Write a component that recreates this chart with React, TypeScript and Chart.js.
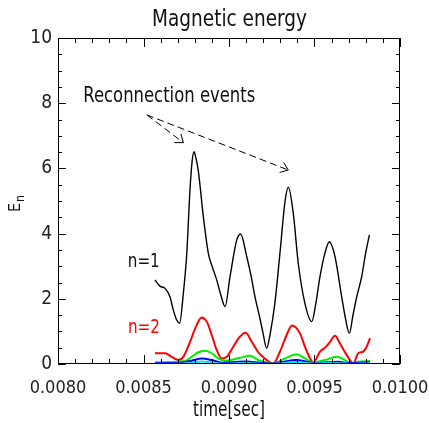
import React, { useEffect, useRef } from "react";
import { Chart, registerables } from "chart.js";

Chart.register(...registerables);

// ---- data (time [sec], energy) ----
const n1Time = [0.008567, 0.008596, 0.008626, 0.008655, 0.008674, 0.008694, 0.008711, 0.008733, 0.008753, 0.008772, 0.008784, 0.008795, 0.008807, 0.00882, 0.00885, 0.008879, 0.008901, 0.008928, 0.008953, 0.008977, 0.009006, 0.009045, 0.009068, 0.009104, 0.009129, 0.009152, 0.009181, 0.009199, 0.00922, 0.00924, 0.009269, 0.009298, 0.009328, 0.009347, 0.009376, 0.009405, 0.009444, 0.009484, 0.009509, 0.009532, 0.009561, 0.009587, 0.00962, 0.009659, 0.009681, 0.009704, 0.009725, 0.009747, 0.009776, 0.009799, 0.009821];
const n1Energy = [2.58, 2.39, 2.32, 2.06, 1.66, 1.35, 1.25, 2.17, 3.38, 5.36, 6.2, 6.51, 6.3, 5.95, 4.52, 3.4, 3.0, 2.58, 2.1, 1.76, 2.68, 3.8, 3.99, 3.29, 2.7, 2.06, 1.4, 0.95, 0.48, 0.9, 1.9, 3.4, 5.0, 5.42, 4.62, 3.09, 1.86, 1.3, 1.9, 2.68, 3.4, 3.75, 3.29, 2.06, 1.4, 0.94, 1.5, 2.06, 2.68, 3.4, 3.96];

const n2Time = [0.008567, 0.008626, 0.008665, 0.008704, 0.008733, 0.008772, 0.008811, 0.00884, 0.00887, 0.008899, 0.008928, 0.008957, 0.008987, 0.009025, 0.009064, 0.009098, 0.009133, 0.009154, 0.009171, 0.009191, 0.00924, 0.009259, 0.009298, 0.009337, 0.009368, 0.009415, 0.009444, 0.009474, 0.009493, 0.009532, 0.009561, 0.009591, 0.00962, 0.009649, 0.009688, 0.009727, 0.009756, 0.009785, 0.009805, 0.009825];
const n2Energy = [0.33, 0.33, 0.22, 0.12, 0.22, 0.68, 1.2, 1.43, 1.3, 0.89, 0.43, 0.17, 0.22, 0.53, 0.84, 0.96, 0.68, 0.5, 0.36, 0.25, 0.05, 0.02, 0.38, 0.89, 1.18, 0.94, 0.53, 0.17, 0.05, 0.38, 0.5, 0.68, 0.87, 0.63, 0.28, 0.02, 0.33, 0.38, 0.53, 0.79];

const n3Time = [0.008567, 0.008655, 0.008743, 0.008782, 0.00882, 0.00886, 0.008899, 0.008937, 0.008977, 0.009025, 0.009064, 0.009123, 0.009171, 0.009191, 0.009259, 0.009308, 0.009347, 0.009396, 0.009444, 0.009493, 0.009561, 0.00963, 0.009678, 0.009717, 0.009756, 0.009825];
const n3Energy = [0.05, 0.06, 0.09, 0.22, 0.36, 0.41, 0.33, 0.17, 0.1, 0.14, 0.19, 0.25, 0.12, 0.09, 0.01, 0.12, 0.22, 0.3, 0.17, 0.05, 0.12, 0.22, 0.12, 0.02, 0.07, 0.09];

const n4Time = [0.008567, 0.0087, 0.00878, 0.00884, 0.0089, 0.00896, 0.00903, 0.0091, 0.00918, 0.00925, 0.00932, 0.00939, 0.00945, 0.0095, 0.00957, 0.00964, 0.0097, 0.00976, 0.009825];
const n4Energy = [0.03, 0.03, 0.1, 0.17, 0.12, 0.04, 0.06, 0.08, 0.04, 0.01, 0.07, 0.12, 0.08, 0.02, 0.05, 0.07, 0.03, 0.04, 0.05];

const n5Time = [0.008567, 0.0087, 0.00879, 0.00884, 0.0089, 0.00896, 0.00905, 0.00911, 0.00918, 0.00925, 0.00933, 0.00939, 0.00945, 0.0095, 0.0096, 0.0097, 0.009825];
const n5Energy = [0.01, 0.01, 0.04, 0.08, 0.05, 0.01, 0.02, 0.03, 0.01, 0.0, 0.03, 0.06, 0.03, 0.01, 0.03, 0.01, 0.02];

// ---- axes ----
const xMin = 0.008;
const xMax = 0.01;
const xMajorStep = 0.0005;
const xMinorStep = 0.0001;
const yMin = 0;
const yMax = 10;
const yMajorStep = 2;
const yMinorStep = 0.5;

// ---- text ----
const titleText = "Magnetic energy";
const xTitle = "time[sec]";
const yTitleMain = "E";
const yTitleSub = "n";
const annotationText = "Reconnection events";
const annotationPos = [0.008148, 8.05];
const arrowTail = [0.00852, 7.64];
const arrowHeads = [
  [0.008733, 6.79],
  [0.009347, 5.95],
];
const seriesLabels = [
  { text: "n=1", t: 0.008408, e: 2.98, color: "#111111" },
  { text: "n=2", t: 0.008409, e: 0.95, color: "#ff0000" },
];

const FONT = "'DejaVu Sans Condensed', 'Liberation Sans', sans-serif";
const W = 300;

const toXY = (t: number[], e: number[]) => t.map((v, i) => ({ x: v, y: e[i] }));

const decorPlugin = {
  id: "idlDecor",
  afterDraw(chart: any) {
    const { ctx, chartArea, scales } = chart;
    const xs = scales.x;
    const ys = scales.y;
    const { left, right, top, bottom } = chartArea;
    ctx.save();
    ctx.strokeStyle = "#000";
    ctx.lineWidth = 1;
    ctx.setLineDash([]);
    // frame
    ctx.beginPath();
    ctx.rect(left + 0.5, top + 0.5, right - left - 1, bottom - top - 1);
    ctx.stroke();
    // x ticks
    const nx = Math.round((xMax - xMin) / xMinorStep);
    for (let i = 0; i <= nx; i++) {
      const v = xMin + i * xMinorStep;
      const major = i % Math.round(xMajorStep / xMinorStep) === 0;
      const len = major ? 9 : 5;
      const px = Math.round(xs.getPixelForValue(v)) + 0.5;
      ctx.beginPath();
      ctx.moveTo(px, bottom);
      ctx.lineTo(px, bottom - len);
      ctx.moveTo(px, top);
      ctx.lineTo(px, top + len);
      ctx.stroke();
    }
    // y ticks
    const ny = Math.round((yMax - yMin) / yMinorStep);
    for (let i = 0; i <= ny; i++) {
      const v = yMin + i * yMinorStep;
      const major = i % Math.round(yMajorStep / yMinorStep) === 0;
      const len = major ? 8 : 4;
      const py = Math.round(ys.getPixelForValue(v)) + 0.5;
      ctx.beginPath();
      ctx.moveTo(left, py);
      ctx.lineTo(left + len, py);
      ctx.moveTo(right, py);
      ctx.lineTo(right - len, py);
      ctx.stroke();
    }

    ctx.fillStyle = "#111";
    ctx.textBaseline = "alphabetic";
    // title
    ctx.font = `${W} 23px ${FONT}`;
    ctx.textAlign = "left";
    ctx.fillText(titleText, 152, 26, 155);
    // x title
    ctx.font = `${W} 21px ${FONT}`;
    ctx.fillText(xTitle, 193, 416, 72);
    // y title
    ctx.save();
    ctx.translate(20, 212);
    ctx.rotate(-Math.PI / 2);
    ctx.font = `${W} 16px ${FONT}`;
    ctx.fillText(yTitleMain, 0, 0);
    const w = ctx.measureText(yTitleMain).width;
    ctx.font = `${W} 12px ${FONT}`;
    ctx.fillText(yTitleSub, w + 1, 4);
    ctx.restore();

    // annotation text
    ctx.font = `${W} 22px ${FONT}`;
    ctx.fillText(annotationText, xs.getPixelForValue(annotationPos[0]), ys.getPixelForValue(annotationPos[1]), 172);

    // series labels
    ctx.font = `${W} 20px ${FONT}`;
    for (const s of seriesLabels) {
      ctx.fillStyle = s.color;
      ctx.fillText(s.text, xs.getPixelForValue(s.t), ys.getPixelForValue(s.e), 32);
    }

    // arrows
    ctx.strokeStyle = "#000";
    ctx.lineWidth = 1;
    const tx = xs.getPixelForValue(arrowTail[0]);
    const ty = ys.getPixelForValue(arrowTail[1]);
    for (const h of arrowHeads) {
      const hx = xs.getPixelForValue(h[0]);
      const hy = ys.getPixelForValue(h[1]);
      ctx.setLineDash([7, 4]);
      ctx.beginPath();
      ctx.moveTo(tx, ty);
      ctx.lineTo(hx, hy);
      ctx.stroke();
      ctx.setLineDash([]);
      const ang = Math.atan2(ty - hy, tx - hx);
      const L = 9;
      const spread = (37 * Math.PI) / 180;
      ctx.beginPath();
      ctx.moveTo(hx + L * Math.cos(ang - spread), hy + L * Math.sin(ang - spread));
      ctx.lineTo(hx, hy);
      ctx.lineTo(hx + L * Math.cos(ang + spread), hy + L * Math.sin(ang + spread));
      ctx.stroke();
    }
    ctx.restore();
  },
};

export default function App() {
  const ref = useRef<HTMLCanvasElement>(null);
  useEffect(() => {
    if (!ref.current) return;
    const line = (data: any, color: string, width: number) => ({
      data,
      borderColor: color,
      backgroundColor: color,
      borderWidth: width,
      pointRadius: 0,
      fill: false,
      cubicInterpolationMode: "monotone" as const,
    });
    const chart = new Chart(ref.current, {
      type: "line",
      data: {
        datasets: [
          line(toXY(n5Time, n5Energy), "#00e5ff", 2),
          line(toXY(n4Time, n4Energy), "#0000ff", 2),
          line(toXY(n3Time, n3Energy), "#00ee00", 2),
          line(toXY(n2Time, n2Energy), "#ff0000", 2),
          line(toXY(n1Time, n1Energy), "#000000", 1.4),
        ],
      },
      options: {
        animation: false,
        responsive: false,
        devicePixelRatio: 1,
        layout: { padding: { top: 38, right: 29, left: 0, bottom: 0 } },
        plugins: { legend: { display: false }, tooltip: { enabled: false }, title: { display: false } },
        scales: {
          x: {
            type: "linear",
            min: xMin,
            max: xMax,
            grid: { display: false, drawTicks: false },
            border: { display: false },
            ticks: {
              stepSize: xMajorStep,
              padding: 14,
              color: "#222",
              font: { family: FONT, size: 18, weight: W },
              maxRotation: 0,
              autoSkip: false,
              callback: (v: any) => Number(v).toFixed(4),
            },
            afterFit: (s: any) => {
              s.height = 59;
              s.paddingLeft = 0;
              s.paddingRight = 0;
            },
          },
          y: {
            type: "linear",
            min: yMin,
            max: yMax,
            grid: { display: false, drawTicks: false },
            border: { display: false },
            ticks: {
              stepSize: yMajorStep,
              padding: 6,
              color: "#222",
              font: { family: FONT, size: 19, weight: W },
              callback: (v: any) => String(v),
            },
            afterFit: (s: any) => {
              s.width = 58;
              s.paddingTop = 0;
              s.paddingBottom = 0;
            },
          },
        },
      },
      plugins: [decorPlugin],
    });
    return () => chart.destroy();
  }, []);
  return (
    <div style={{ position: "absolute", left: 0, top: 0, width: 429, height: 423, background: "#fff" }}>
      <canvas ref={ref} width={429} height={423} style={{ width: 429, height: 423 }} />
    </div>
  );
}
